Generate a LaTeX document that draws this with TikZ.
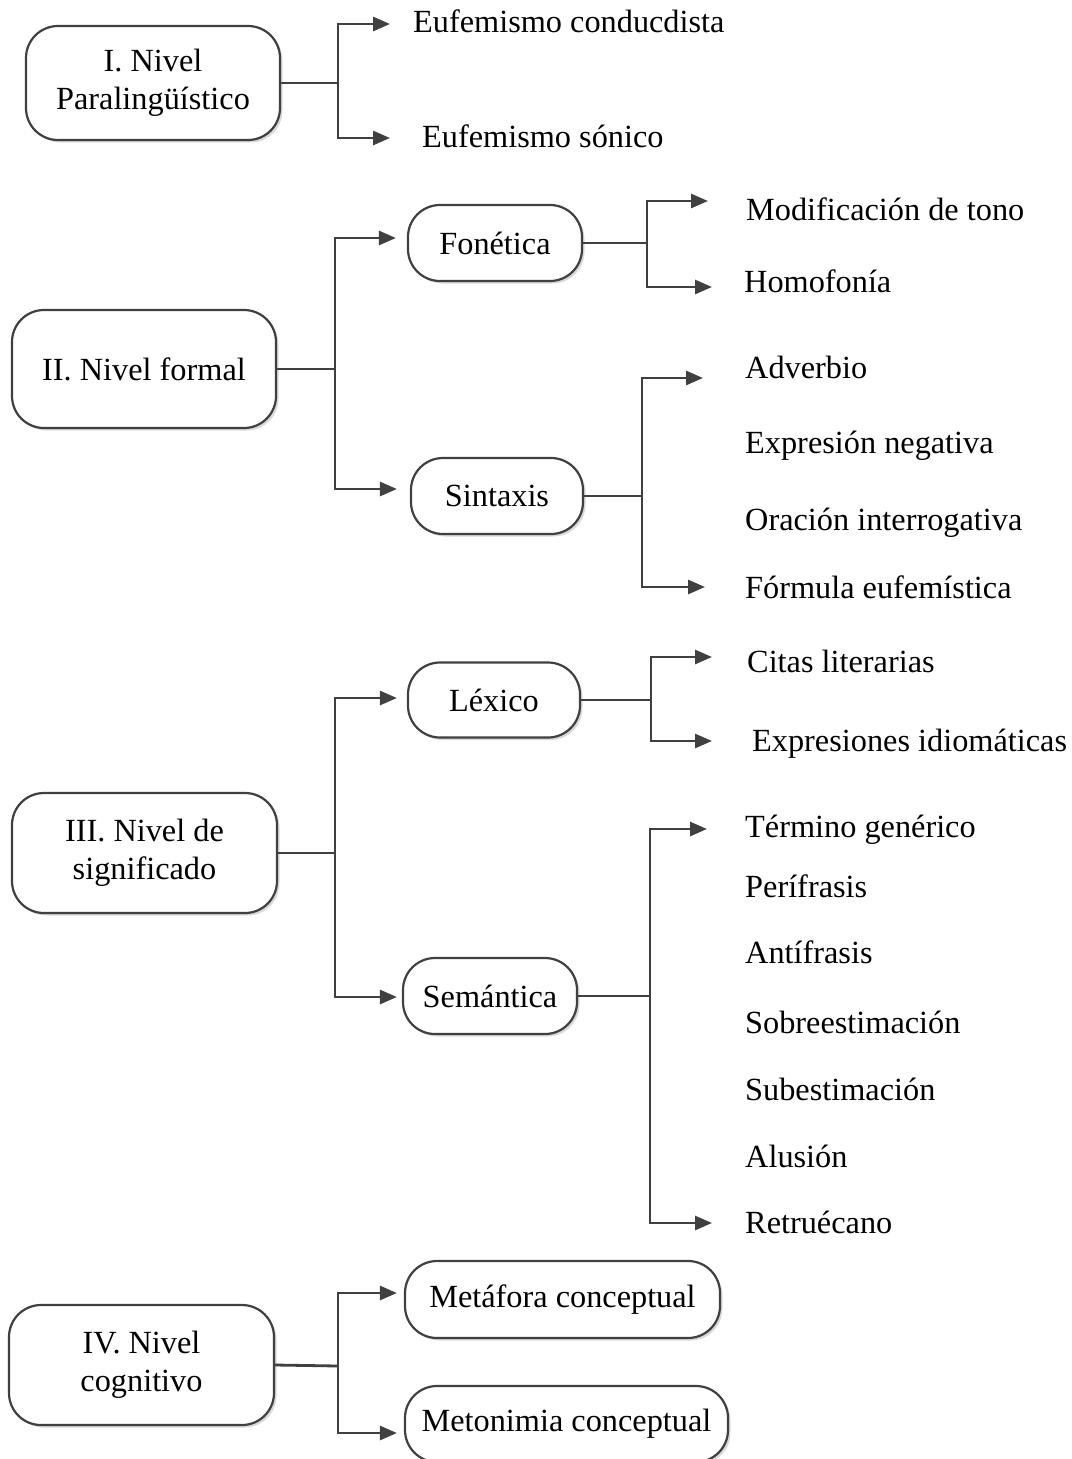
\documentclass[tikz,border=0pt]{standalone}
\usepackage{fontspec}
\setmainfont{Liberation Serif}
\usetikzlibrary{arrows.meta,shadows}
\definecolor{ink}{HTML}{404040}
\begin{document}
\begin{tikzpicture}[x=1pt,y=-1pt,
  txt/.style={font=\fontsize{32.3}{38}\selectfont, text=black},
  box/.style={txt, draw=ink, line width=2.2pt, rounded corners=32pt, fill=white,
    align=center, inner sep=0pt,
    general shadow={fill=black!15, shadow xshift=2.5pt, shadow yshift=-2.5pt}},
  leaf/.style={txt, anchor=base west, inner sep=0pt},
  wire/.style={draw=ink, line width=2.8pt},
  arr/.style={wire, -{Triangle[length=17pt,width=14pt]}},
]
\clip (0,0) rectangle (1071,1459);
\fill[white] (0,0) rectangle (1071,1459);

% level boxes
\node[box, minimum width=254pt, minimum height=114pt] (n1) at (153,83) {I. Nivel\\Paralingüístico};
\node[box, minimum width=264pt, minimum height=118pt] (n2) at (144,369) {II. Nivel formal};
\node[box, minimum width=265pt, minimum height=120pt] (n3) at (144.5,853) {III. Nivel de\\significado};
\node[box, minimum width=265pt, minimum height=120pt] (n4) at (141.5,1365) {IV. Nivel\\cognitivo};

% sub-level boxes
\node[box, minimum width=174pt, minimum height=76pt] (fon) at (495,243) {Fonética};
\node[box, minimum width=172pt, minimum height=76pt] (sin) at (497,496) {Sintaxis};
\node[box, minimum width=172pt, minimum height=75pt] (lex) at (494,700) {Léxico};
\node[box, minimum width=174pt, minimum height=76pt] (sem) at (490,996) {Semántica};
\node[box, minimum width=315pt, minimum height=77pt] (met) at (562.5,1299.5) {Metáfora conceptual};
\node[box, minimum width=323pt, minimum height=76pt] (mto) at (566.5,1424) {Metonimia conceptual};

% leaf labels
\node[leaf] (e1) at (413,32) {Eufemismo conducdista};
\node[leaf] (e2) at (422,147) {Eufemismo sónico};
\node[leaf] (f1) at (746,220) {Modificación de tono};
\node[leaf] (f2) at (744,292) {Homofonía};
\node[leaf] (s1) at (745,378) {Adverbio};
\node[leaf] (s2) at (745,453) {Expresión negativa};
\node[leaf] (s3) at (745,530) {Oración interrogativa};
\node[leaf] (s4) at (745,598) {Fórmula eufemística};
\node[leaf] (l1) at (747,672) {Citas literarias};
\node[leaf] (l2) at (752,751) {Expresiones idiomáticas};
\node[leaf] (m1) at (745,837) {Término genérico};
\node[leaf] (m2) at (745,897) {Perífrasis};
\node[leaf] (m3) at (745,963) {Antífrasis};
\node[leaf] (m4) at (745,1033) {Sobreestimación};
\node[leaf] (m5) at (745,1100) {Subestimación};
\node[leaf] (m6) at (745,1167) {Alusión};
\node[leaf] (m7) at (745,1233) {Retruécano};

% junctions and free arrow ends
\coordinate (j1) at (338,83);
\coordinate (t11) at (390,24);
\coordinate (t12) at (390,138);
\coordinate (j2) at (335,369);
\coordinate (j3) at (335,853);
\coordinate (j4) at (338,1366);
\coordinate (jf) at (647,243);
\coordinate (tf1) at (708,201);
\coordinate (tf2) at (712,287);
\coordinate (js) at (642,496);
\coordinate (ts1) at (703,378);
\coordinate (ts2) at (705,587);
\coordinate (jl) at (651,700);
\coordinate (tl1) at (712,657);
\coordinate (tl2) at (712,741);
\coordinate (jm) at (650,996);
\coordinate (tm1) at (707,829);
\coordinate (tm2) at (712,1223);

% level I
\draw[wire] (n1.east) -- (j1);
\draw[arr] (j1) |- (t11);
\draw[arr] (j1) |- (t12);

% level II
\draw[wire] (n2.east) -- (j2);
\draw[arr] (j2) |- ([xshift=-11pt,yshift=5pt]fon.west);
\draw[arr] (j2) |- ([xshift=-13pt,yshift=7pt]sin.west);
\draw[wire] (fon.east) -- (jf);
\draw[arr] (jf) |- (tf1);
\draw[arr] (jf) |- (tf2);
\draw[wire] (sin.east) -- (js);
\draw[arr] (js) |- (ts1);
\draw[arr] (js) |- (ts2);

% level III
\draw[wire] (n3.east) -- (j3);
\draw[arr] (j3) |- ([xshift=-10pt,yshift=2pt]lex.west);
\draw[arr] (j3) |- ([xshift=-5pt,yshift=-1pt]sem.west);
\draw[wire] (lex.east) -- (jl);
\draw[arr] (jl) |- (tl1);
\draw[arr] (jl) |- (tl2);
\draw[wire] (sem.east) -- (jm);
\draw[arr] (jm) |- (tm1);
\draw[arr] (jm) |- (tm2);

% level IV
\draw[wire] (n4.east) -- (j4);
\draw[arr] (j4) |- ([xshift=-7pt,yshift=6.5pt]met.west);
\draw[arr] (j4) |- ([xshift=-7pt,yshift=-9pt]mto.west);
\end{tikzpicture}
\end{document}
